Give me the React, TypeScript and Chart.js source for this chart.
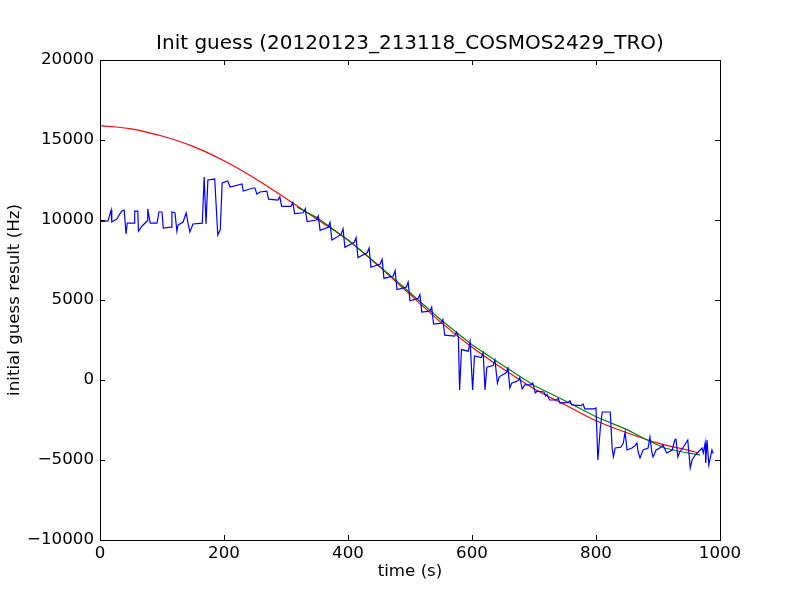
import React, { useEffect, useRef } from "react";
import { Chart, registerables } from "chart.js";

Chart.register(...registerables);

const titleText = "Init guess (20120123_213118_COSMOS2429_TRO)";
const xLabel = "time (s)";
const yLabel = "initial guess result (Hz)";
const xTicks = [0, 200, 400, 600, 800, 1000];
const yTicks = [-10000, -5000, 0, 5000, 10000, 15000, 20000];

const blueT = [
  0, 13, 18, 19, 27, 35, 39, 42, 44, 55, 56, 61, 62, 68, 76, 77, 81, 92, 95, 100,
  102, 115, 116, 121, 124, 126, 134, 139, 142, 145, 150, 165, 168, 171, 174, 185, 190, 194, 197, 206,
  210, 229, 231, 247, 250, 253, 258, 269, 272, 287, 290, 293, 308, 311, 314, 328, 331, 334, 349, 352,
  355, 368, 371, 374, 389, 392, 395, 410, 413, 416, 431, 434, 437, 452, 455, 458, 473, 476, 479, 494,
  497, 500, 513, 516, 519, 532, 535, 538, 550, 553, 556, 572, 575, 578, 580, 583, 594, 597, 601, 604,
  615, 618, 621, 624, 634, 637, 641, 644, 655, 658, 661, 664, 674, 677, 681, 685, 695, 698, 702, 705,
  716, 719, 721, 725, 736, 739, 742, 755, 758, 761, 776, 779, 782, 797, 800, 803, 807, 810, 823, 826,
  828, 831, 840, 844, 847, 850, 858, 863, 866, 868, 871, 876, 884, 887, 890, 892, 897, 903, 908, 914,
  923, 927, 929, 932, 935, 940, 948, 952, 955, 960, 968, 971, 973, 976, 977, 979, 982, 987, 989,
];
const blueV = [
  9900, 9940, 10625, 9875, 10060, 10560, 10620, 9125, 9800, 9800, 10560, 10560, 9300, 9625, 9940, 10690, 9800, 9800, 10500, 10500,
  9500, 9560, 10500, 10440, 9300, 9690, 9875, 10440, 9800, 9250, 9750, 9800, 12690, 9750, 12500, 12560, 9060, 9400, 12310, 12440,
  12060, 12250, 11810, 12000, 12000, 11620, 11750, 11800, 11300, 11250, 11450, 10850, 10850, 11100, 10400, 10450, 10700, 9900, 10000, 10250,
  9350, 9550, 9850, 8750, 9100, 9450, 8300, 8600, 8900, 7650, 7950, 8250, 7050, 7250, 7550, 6350, 6500, 6830, 5650, 5800,
  6120, 4950, 5100, 5350, 4250, 4300, 4550, 3500, 3550, 3780, 2800, 2750, 3000, 2700, -625, 1900, 1800, 2400, -625, 1500,
  1400, 1700, -625, 800, 900, 1250, -200, 200, 450, 750, -500, -200, -50, 150, -560, -310, -300, -200, -810, -700,
  -750, -1000, -900, -1250, -1250, -1150, -1450, -1400, -1300, -1560, -1600, -1500, -1800, -1800, -1750, -5000, -3000, -2000, -2000, -4250,
  -4800, -4250, -4200, -3940, -3250, -4375, -4250, -4100, -3940, -4500, -4875, -4375, -4250, -3560, -4500, -4810, -4375, -4250, -4060, -4560,
  -4375, -3750, -3700, -4810, -4500, -4250, -3750, -5500, -5000, -4690, -4375, -4250, -4560, -3940, -5190, -3750, -5310, -4375, -4600,
];

const greenT = [318, 350, 400, 450, 500, 550, 600, 650, 700, 750, 800, 850, 880, 910, 940, 968];
const greenV = [10800, 10150, 8750, 7150, 5450, 3750, 2200, 900, -350, -1300, -2300, -3100, -3700, -4250, -4500, -4700];

const redT = [0, 50, 100, 150, 200, 250, 300, 350, 400, 450, 500, 550, 600, 650, 700, 750, 800, 850, 900, 950, 965];
const redV = [15900, 15700, 15250, 14600, 13700, 12600, 11350, 10050, 8750, 7100, 5350, 3600, 2050, 700, -550, -1550, -2550, -3300, -3950, -4400, -4550];

const toPts = (t: number[], v: number[]) => t.map((x, i) => ({ x, y: v[i] }));
const fmt = (v: number) => (v < 0 ? "\u2212" + Math.abs(v) : String(v));

const FONT = "'DejaVu Sans', sans-serif";

const framePlugin = {
  id: "frame",
  afterDraw(chart: any) {
    const { ctx, chartArea } = chart;
    const { left, right, top, bottom } = chartArea;
    const xs = chart.scales.x;
    const ys = chart.scales.y;
    ctx.save();
    ctx.strokeStyle = "#000";
    ctx.lineWidth = 1;
    ctx.strokeRect(Math.round(left) + 0.5, Math.round(top) + 0.5, Math.round(right - left), Math.round(bottom - top));
    const tl = 5;
    ctx.beginPath();
    xTicks.forEach((t) => {
      const px = Math.round(xs.getPixelForValue(t)) + 0.5;
      ctx.moveTo(px, bottom);
      ctx.lineTo(px, bottom - tl);
      ctx.moveTo(px, top);
      ctx.lineTo(px, top + tl);
    });
    yTicks.forEach((t) => {
      const py = Math.round(ys.getPixelForValue(t)) + 0.5;
      ctx.moveTo(left, py);
      ctx.lineTo(left + tl, py);
      ctx.moveTo(right, py);
      ctx.lineTo(right - tl, py);
    });
    ctx.stroke();
    ctx.fillStyle = "#000";
    ctx.textAlign = "center";
    ctx.textBaseline = "alphabetic";
    ctx.font = `20px ${FONT}`;
    ctx.fillText(titleText, (left + right) / 2, 49);
    ctx.font = `16.67px ${FONT}`;
    ctx.fillText(xLabel, (left + right) / 2, 576);
    ctx.translate(15, (top + bottom) / 2);
    ctx.rotate(-Math.PI / 2);
    ctx.textBaseline = "middle";
    ctx.fillText(yLabel, 0, 0);
    ctx.restore();
  },
};

export default function App() {
  const ref = useRef<HTMLCanvasElement>(null);
  useEffect(() => {
    document.body.style.margin = "0";
    const canvas = ref.current!;
    const chart = new Chart(canvas, {
      type: "line",
      data: {
        datasets: [
          { data: toPts(blueT, blueV), borderColor: "#0000ff", borderWidth: 1.2, pointRadius: 0, tension: 0 },
          { data: toPts(greenT, greenV), borderColor: "#008000", borderWidth: 1.2, pointRadius: 0, tension: 0 },
          { data: toPts(redT, redV), borderColor: "#ff0000", borderWidth: 1.2, pointRadius: 0, tension: 0.4, cubicInterpolationMode: "monotone" },
        ],
      },
      options: {
        animation: false,
        responsive: false,
        devicePixelRatio: 1,
        layout: { padding: { left: 0, top: 60, right: 80, bottom: 0 } },
        plugins: { legend: { display: false }, tooltip: { enabled: false }, title: { display: false } },
        scales: {
          x: {
            type: "linear",
            min: 0,
            max: 1000,
            afterBuildTicks: (s: any) => { s.ticks = xTicks.map((v) => ({ value: v })); },
            afterFit: (s: any) => { s.height = 60; },
            ticks: { color: "#000", font: { family: FONT, size: 16.67 }, padding: 4, maxRotation: 0, autoSkip: false, callback: (v: any) => fmt(Number(v)) },
            grid: { display: false, drawTicks: false },
            border: { display: false },
          },
          y: {
            type: "linear",
            min: -10000,
            max: 20000,
            afterBuildTicks: (s: any) => { s.ticks = yTicks.map((v) => ({ value: v })); },
            afterFit: (s: any) => { s.width = 100; },
            ticks: { color: "#000", font: { family: FONT, size: 16.67 }, padding: 6, autoSkip: false, callback: (v: any) => fmt(Number(v)) },
            grid: { display: false, drawTicks: false },
            border: { display: false },
          },
        },
      },
      plugins: [framePlugin],
    } as any);
    return () => chart.destroy();
  }, []);
  return (
    <div style={{ position: "absolute", left: 0, top: 0, width: 800, height: 600, background: "#fff" }}>
      <canvas ref={ref} width={800} height={600} />
    </div>
  );
}
